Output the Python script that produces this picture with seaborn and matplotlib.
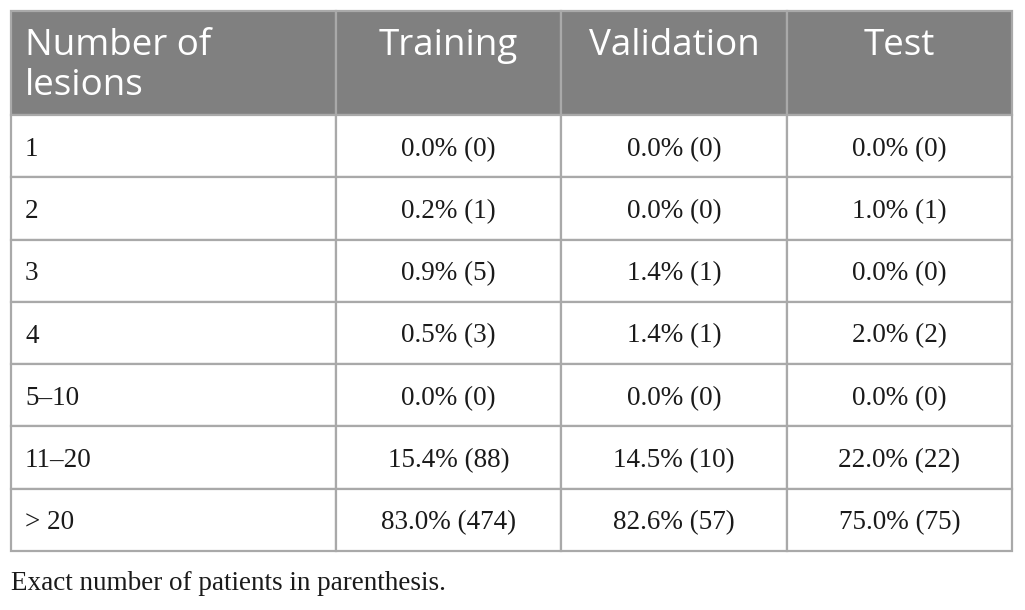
"""Lesion count distribution table"""

import matplotlib.pyplot as plt
import matplotlib.transforms as mtransforms
import seaborn as sns

header = ["Number of\nlesions", "Training", "Validation", "Test"]
row_labels = ["1", "2", "3", "4", "5\u201310", "11\u201320", "> 20"]
training = ["0.0% (0)", "0.2% (1)", "0.9% (5)", "0.5% (3)", "0.0% (0)", "15.4% (88)", "83.0% (474)"]
validation = ["0.0% (0)", "0.0% (0)", "1.4% (1)", "1.4% (1)", "0.0% (0)", "14.5% (10)", "82.6% (57)"]
test = ["0.0% (0)", "1.0% (1)", "0.0% (0)", "2.0% (2)", "0.0% (0)", "22.0% (22)", "75.0% (75)"]
caption = "Exact number of patients in parenthesis."

sns.set_theme(style="white")

W, H = 1025, 610
fig = plt.figure(figsize=(W / 100, H / 100), dpi=100)
ax = fig.add_axes([0, 0, 1, 1])
ax.set_axis_off()

col_px = [325, 225, 226, 225]
head_px, row_px = 104, 62.3
left_px, top_px = 11, 11
table_w = sum(col_px)
table_h = head_px + row_px * len(row_labels)

# single-line headers get a blank second line so they sit on the first line
header_cells = [h if "\n" in h else h + "\n " for h in header]

cell_text = [[lab, a, b, c] for lab, a, b, c in zip(row_labels, training, validation, test)]
tab = ax.table(
    cellText=cell_text,
    colLabels=header_cells,
    colWidths=[w / table_w for w in col_px],
    bbox=[left_px / W, 1 - (top_px + table_h) / H, table_w / W, table_h / H],
)
tab.auto_set_font_size(False)

line_col = "#a9a9a9"
body_shift = mtransforms.Affine2D().translate(0, -3)
head_shift = mtransforms.Affine2D().translate(0, -3)
for (r, c), cell in tab.get_celld().items():
    cell.set_edgecolor(line_col)
    cell.set_linewidth(1.6)
    cell.set_height(head_px / table_h if r == 0 else row_px / table_h)
    txt = cell.get_text()
    if r == 0:
        cell.set_facecolor("#808080")
        txt.set_color("white")
        txt.set_fontfamily(["Open Sans", "DejaVu Sans"])
        txt.set_fontsize(26.5)
        txt.set_linespacing(1.13)
        txt.set_transform(head_shift)
    else:
        cell.set_facecolor("white")
        txt.set_color("#1a1a1a")
        txt.set_fontfamily(["Liberation Serif", "DejaVu Serif"])
        txt.set_fontsize(19.5)
        txt.set_transform(body_shift)
    if c == 0:
        cell.set_text_props(ha="left")
        cell.PAD = 14 / col_px[0]
    else:
        cell.set_text_props(ha="center")

ax.text(
    left_px / W, 1 - 584 / H, caption,
    transform=ax.transAxes, ha="left", va="center",
    fontsize=19.5, color="#1a1a1a", family=["Liberation Serif", "DejaVu Serif"],
)

fig.savefig("out.png", dpi=100)
